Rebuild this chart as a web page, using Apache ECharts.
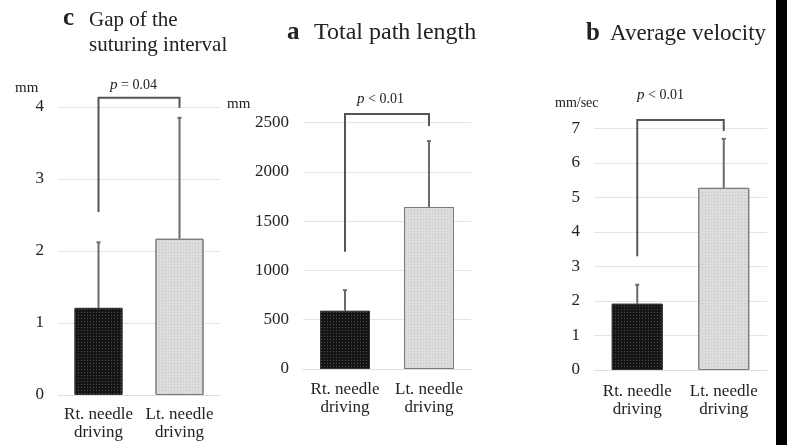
<!DOCTYPE html>
<html lang="en">
  <head>
    <meta charset="UTF-8" />
    <title>Needle driving comparison</title>
    <script src="https://cdn.jsdelivr.net/npm/echarts@6/dist/echarts.min.js"></script>
    <style>
      * {
        margin: 0;
        padding: 0;
      }
      body {
        background: #fff;
      }
    </style>
  </head>
  <body>
    <div id="main" style="width: 787px; height: 445px"></div>
    <script>
      var categories = ['Rt. needle\ndriving', 'Lt. needle\ndriving'];

      // c: gap of the suturing interval (mm)
      var gapMean = [1.21, 2.17];
      var gapUpper = [2.12, 3.85];
      var gapBracket = [2.54, 3.99, 4.13]; // left leg end, right leg end, top
      var gapTicks = [0, 1, 2, 3, 4];

      // a: total path length (mm)
      var pathMean = [590, 1643];
      var pathUpper = [800, 2312];
      var pathBracket = [1190, 2464, 2586];
      var pathTicks = [0, 500, 1000, 1500, 2000, 2500];

      // b: average velocity (mm/sec)
      var velMean = [1.92, 5.28];
      var velUpper = [2.47, 6.7];
      var velBracket = [3.3, 6.93, 7.25];
      var velTicks = [0, 1, 2, 3, 4, 5, 6, 7];

      var serif = '"Liberation Serif", "DejaVu Serif", serif';
      var myChart = echarts.init(document.getElementById('main'));

      var grids = [
        { left: 58, top: 107, width: 162, height: 288 },
        { left: 303, top: 122.5, width: 168, height: 246.5 },
        { left: 594, top: 128.5, width: 173, height: 241.5 }
      ];
      var barWidths = [48, 50, 51];
      var labelMargins = [11, 12, 13];
      var means = [gapMean, pathMean, velMean];
      var uppers = [gapUpper, pathUpper, velUpper];
      var brackets = [gapBracket, pathBracket, velBracket];
      var ticks = [gapTicks, pathTicks, velTicks];

      var dots = function (c) {
        return { symbol: 'rect', symbolSize: 1, dashArrayX: [1, 2], dashArrayY: [1, 2], color: c };
      };

      function errorItem(params, api) {
        var base = api.coord([api.value(0), api.value(1)]);
        var top = api.coord([api.value(0), api.value(2)]);
        var st = { stroke: '#6b6b6b', lineWidth: 2 };
        return {
          type: 'group',
          children: [
            { type: 'line', shape: { x1: base[0], y1: base[1], x2: top[0], y2: top[1] }, style: st },
            { type: 'line', shape: { x1: top[0] - 2, y1: top[1], x2: top[0] + 2, y2: top[1] }, style: st }
          ]
        };
      }

      function bracketItem(params, api) {
        var l = api.coord([0, api.value(0)]);
        var r = api.coord([1, api.value(1)]);
        var t = api.coord([0, api.value(2)]);
        return {
          type: 'polyline',
          shape: { points: [[l[0], l[1]], [l[0], t[1]], [r[0], t[1]], [r[0], r[1]]] },
          style: { stroke: '#555', lineWidth: 2, fill: null }
        };
      }

      var xAxes = [], yAxes = [], series = [];
      grids.forEach(function (g, i) {
        xAxes.push({
          type: 'category',
          gridIndex: i,
          data: categories,
          axisLine: { lineStyle: { color: '#dedede' } },
          axisTick: { show: false },
          axisLabel: {
            interval: 0,
            hideOverlap: false,
            color: '#222',
            fontFamily: serif,
            fontSize: 17,
            lineHeight: 18,
            margin: labelMargins[i]
          }
        });
        var t = ticks[i];
        yAxes.push({
          type: 'value',
          gridIndex: i,
          min: t[0],
          max: t[t.length - 1],
          interval: t[1] - t[0],
          axisLine: { show: false },
          axisTick: { show: false },
          splitLine: { lineStyle: { color: '#e4e4e4' } },
          axisLabel: {
            color: '#222',
            fontFamily: serif,
            fontSize: 17,
            margin: 14,
            formatter: function (v) {
              return String(v);
            }
          }
        });
        series.push({
          type: 'bar',
          xAxisIndex: i,
          yAxisIndex: i,
          barWidth: barWidths[i],
          data: [
            { value: means[i][0], itemStyle: { color: '#151515', borderColor: '#333', borderWidth: 1, decal: dots('#4a4a4a') } },
            { value: means[i][1], itemStyle: { color: '#dcdcdc', borderColor: '#7a7a7a', borderWidth: 1, decal: dots('#c2c2c2') } }
          ]
        });
        series.push({
          type: 'custom',
          xAxisIndex: i,
          yAxisIndex: i,
          renderItem: errorItem,
          data: [[0, means[i][0], uppers[i][0]], [1, means[i][1], uppers[i][1]]],
          z: 1
        });
        series.push({
          type: 'custom',
          xAxisIndex: i,
          yAxisIndex: i,
          renderItem: bracketItem,
          clip: false,
          data: [brackets[i]]
        });
      });

      function txt(s, x, y, size, opts) {
        return {
          type: 'text',
          x: x,
          y: y,
          style: Object.assign(
            { text: s, fontFamily: serif, fontSize: size, fill: '#222', align: 'left', verticalAlign: 'middle', textAlign: 'left', textVerticalAlign: 'middle' },
            opts || {}
          )
        };
      }
      var pRich = { i: { fontStyle: 'italic', fontFamily: serif, fontSize: 15 }, n: { fontFamily: serif, fontSize: 14 } };

      myChart.setOption({
        animation: false,
        grid: grids,
        xAxis: xAxes,
        yAxis: yAxes,
        series: series,
        graphic: [
          txt('c', 63, 19, 25, { fontWeight: 'bold' }),
          txt('Gap of the', 89, 20, 21),
          txt('suturing interval', 89, 45, 21),
          txt('a', 287, 33, 25, { fontWeight: 'bold' }),
          txt('Total path length', 314, 33, 24),
          txt('b', 586, 34, 25, { fontWeight: 'bold' }),
          txt('Average velocity', 610, 34, 23),
          txt('mm', 15, 88, 15),
          txt('mm', 227, 104, 15),
          txt('mm/sec', 555, 103, 14),
          txt('{i|p}{n| = 0.04}', 110, 85, 15, { rich: pRich }),
          txt('{i|p}{n| < 0.01}', 357, 99, 15, { rich: pRich }),
          txt('{i|p}{n| < 0.01}', 637, 95, 15, { rich: pRich }),
          { type: 'rect', shape: { x: 776, y: 0, width: 11, height: 445 }, style: { fill: '#000' } }
        ]
      });
    </script>
  </body>
</html>
